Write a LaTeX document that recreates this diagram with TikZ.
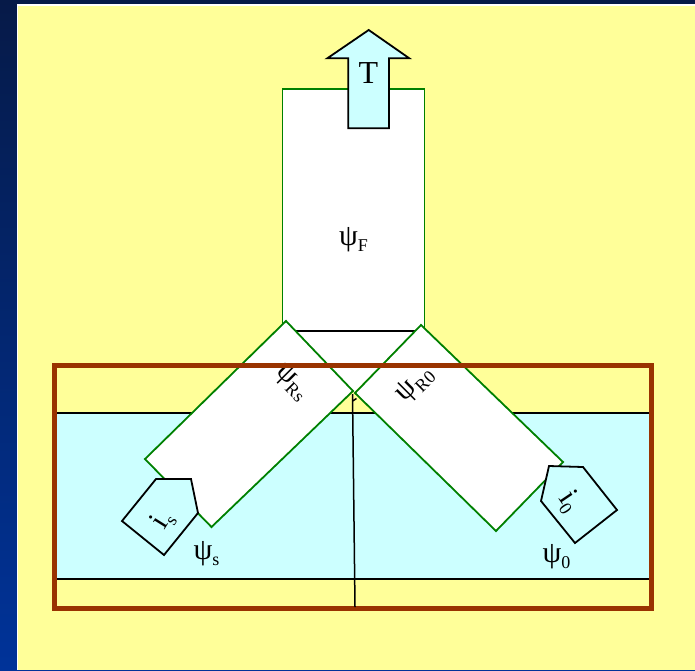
\documentclass[tikz,border=0pt]{standalone}
\usepackage{fontspec}
\setmainfont{Liberation Serif}
\definecolor{bgyellow}{RGB}{255,255,153}
\definecolor{lcyan}{RGB}{204,255,255}
\definecolor{brn}{RGB}{153,51,0}
\definecolor{grn}{RGB}{0,128,0}
\definecolor{navyA}{RGB}{6,26,72}
\definecolor{navyB}{RGB}{0,51,153}
\newcommand\psub[1]{\raisebox{-0.2em}{\fontsize{18}{18}\selectfont #1}}
\tikzset{
  lbl/.style={inner sep=0pt, font=\fontsize{30}{30}\selectfont},
  greenbox/.style={draw=grn, line width=1.8pt, fill=white, line join=miter},
  blk/.style={draw=black, line width=1.8pt},
  penta/.style={draw=black, line width=1.8pt, fill=lcyan, line join=miter},
}
\begin{document}
\begin{tikzpicture}[x=1pt,y=-1pt]
\useasboundingbox (0,0) rectangle (695,670);
% background
\shade[top color=navyA, bottom color=navyB] (0,0) rectangle (695,670);
\fill[white] (16.7,4.3) rectangle (695,670);
\fill[bgyellow] (18.3,6) rectangle (695,670);
% cyan band
\fill[lcyan] (57,413) rectangle (649,579);
\draw[blk] (57,413) -- (649,413);
\draw[blk] (57,579) -- (649,579);
% top box psi_F
\draw[greenbox] (282.5,331) -- (282.5,89) -- (424.5,89) -- (424.5,331);
\fill[white] (286,321) -- (421,325) -- (354,392) -- cycle;
\draw[blk] (282.5,331) -- (424.5,331);
% diagonal boxes
\draw[greenbox] (286,321) -- (353,391) -- (211.5,527) -- (145,459) -- cycle;
\draw[greenbox] (421,325) -- (563,462) -- (496,531) -- (355,393) -- cycle;
% pentagons
\draw[penta] (156,479) -- (191,479) -- (198,513) -- (164,555) -- (122,521) -- cycle;
\draw[penta] (549,466) -- (583,467) -- (617,510) -- (575,543) -- (541,501) -- cycle;
% arrow T
\draw[blk, fill=lcyan, line join=miter] (368.7,30) -- (409.3,58.3) -- (389,58.3) -- (389,128.3) -- (348.3,128.3) -- (348.3,58.3) -- (327.3,58.3) -- cycle;
% labels
\node[lbl, font=\fontsize{32}{32}\selectfont] (T) at (368.5,73.5) {T};
\node[lbl] (psiF) at (353.5,240) {ψ\psub{F}};
\node[lbl, rotate=-45] (psiRs) at (292.5,381.5) {ψ\psub{Rs}};
\node[lbl, rotate=45] (psiR0) at (414.5,384) {ψ\psub{R0}};
\node[lbl] (psis) at (206.5,554) {ψ\psub{s}};
\node[lbl] (psi0) at (556.5,557) {ψ\psub{0}};
\node[lbl, font=\fontsize{30}{30}\selectfont, rotate=58] (is) at (163,520) {i\psub{s}};
\node[lbl, font=\fontsize{30}{30}\selectfont, rotate=-56] (i0) at (569,502) {i\psub{0}};
% brown frame
\draw[brn, line width=5.5pt, line join=miter] (54.5,365.5) rectangle (651.5,608.5);
% vertical line
\draw[black, line width=1.5pt] (352.5,394) -- (355,607);
\draw[black, line width=1.5pt] (352.6,401) -- (356.5,398.5);
\end{tikzpicture}
\end{document}
